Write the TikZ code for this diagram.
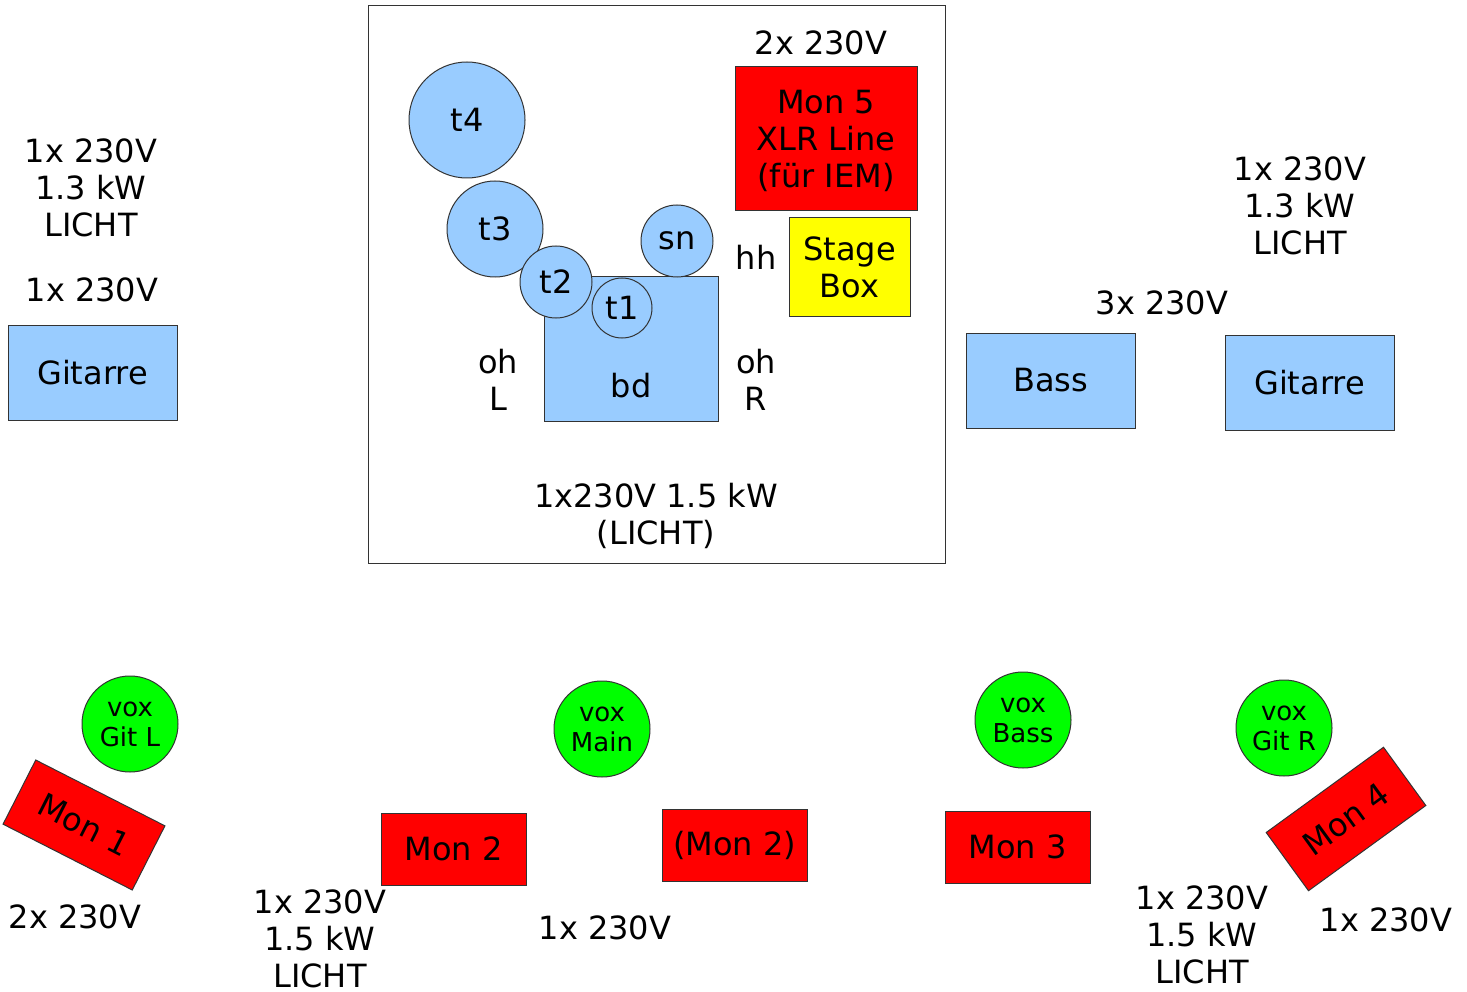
\documentclass[tikz,border=0pt]{standalone}
\usepackage{fontspec}
\setmainfont{DejaVu Sans}
\usetikzlibrary{positioning}
\definecolor{drumblue}{RGB}{153,204,255}
\definecolor{monred}{RGB}{255,0,0}
\definecolor{boxyellow}{RGB}{255,255,0}
\definecolor{voxgreen}{RGB}{0,255,0}
\definecolor{edge}{RGB}{51,51,51}
\begin{document}
\begin{tikzpicture}[x=1pt,y=-1pt,
		every node/.style={font=\fontsize{32}{37}\selectfont, align=center, inner sep=0pt},
		amp/.style={draw=edge, line width=1pt, fill=drumblue, minimum width=169pt, minimum height=95pt},
		drum/.style={draw=edge, line width=1pt, fill=drumblue, circle},
		monbox/.style={draw=edge, line width=1pt, fill=monred, minimum width=145pt, minimum height=72pt},
		vox/.style={draw=edge, line width=1pt, fill=voxgreen, circle, minimum size=96pt, font=\fontsize{26}{30}\selectfont},
		power/.style={}]
				\useasboundingbox (0,0) rectangle (1467,992);
				% Buehne: Schlagzeug
				\draw[edge, line width=1pt] (368,6) rectangle (945,563);
				\node[draw=edge, line width=1pt, fill=drumblue, minimum width=174pt, minimum height=144pt] (bd) at (631,349) {};
				\node (bdtext) at (631,386) {bd};
				\node[drum, minimum size=116pt] (t4) at (467,120) {t4};
				\node[drum, minimum size=96pt] (t3) at (495,229) {t3};
				\node[drum, minimum size=72pt] (t2) at (556,282) {t2};
				\node[drum, minimum size=60pt] (t1) at (622,308) {t1};
				\node[drum, minimum size=72pt] (sn) at (677,241) {sn};
				\node (ohL) at (498,380) {oh\\L};
				\node (ohR) at (756,380) {oh\\R};
				\node (hh) at (756,257) {hh};
				\node[draw=edge, line width=1pt, fill=monred, minimum width=182pt, minimum height=144pt, text depth=0pt] (mon5) at (826,139) {Mon 5\\XLR Line\\(für IEM)};
				\node[power] (p5) at (821,43) {2x 230V};
				\node[draw=edge, line width=1pt, fill=boxyellow, minimum width=121pt, minimum height=99pt] (stagebox) at (849.5,267.5) {Stage\\Box};
				\node[power] (pdrum) at (656,516) {1x230V 1.5 kW\\(LICHT)};
				% links
				\node[power] (plichtL) at (91,188) {1x 230V\\1.3 kW\\LICHT};
				\node[power] (pgitL) at (92,290) {1x 230V};
				\node[amp] (gitL) at (92.5,372.5) {Gitarre};
				% rechts
				\node[power] (plichtR) at (1300,206) {1x 230V\\1.3 kW\\LICHT};
				\node[power] (pbass) at (1162,303) {3x 230V};
				\node[amp] (bass) at (1050.5,380.5) {Bass};
				\node[amp] (gitR) at (1309.5,382.5) {Gitarre};
				% vorne
				\node[vox] (voxgitL) at (130,724) {vox\\Git L};
				\node[monbox, rotate=-27] (mon1) at (84,825) {Mon 1};
				\node[power] (pmon1) at (75,917) {2x 230V};
				\node[monbox] (mon2) at (453.5,849) {Mon 2};
				\node[power] (plichtM) at (320,939) {1x 230V\\1.5 kW\\LICHT};
				\node[vox] (voxmain) at (602,729) {vox\\Main};
				\node[monbox] (mon2b) at (734.5,845) {(Mon 2)};
				\node[power] (pmain) at (605,928) {1x 230V};
				\node[vox] (voxbass) at (1023,720) {vox\\Bass};
				\node[monbox] (mon3) at (1017.5,847) {Mon 3};
				\node[vox] (voxgitR) at (1284,728) {vox\\Git R};
				\node[monbox, rotate=36] (mon4) at (1346,819) {Mon 4};
				\node[power] (plichtR2) at (1202,935) {1x 230V\\1.5 kW\\LICHT};
				\node[power] (pmon4) at (1386,920) {1x 230V};
			\end{tikzpicture}
\end{document}
